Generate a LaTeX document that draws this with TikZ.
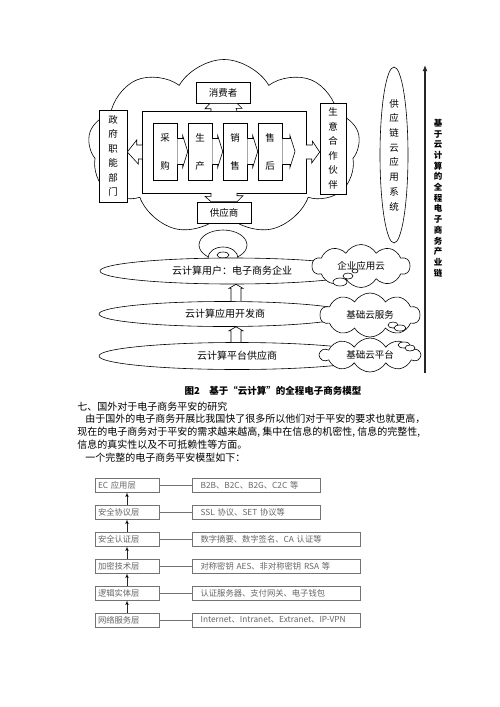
\documentclass[tikz,border=0pt]{standalone}
\usepackage{fontspec}
\setmainfont{Noto Sans CJK SC}
\usepackage{tikz}
\usetikzlibrary{shapes,arrows,arrows.meta,positioning}
\tikzstyle{block} = [rectangle, draw, fill=white, inner sep=0pt, align=center]
\tikzstyle{vbox} = [block, font=\fontsize{9.5}{14.5}\selectfont]
\tikzstyle{proc} = [block, minimum width=24pt, minimum height=57pt,
    font=\fontsize{9.5}{28}\selectfont]
\tikzstyle{tier} = [ellipse, draw, fill=white, inner sep=0pt,
    font=\fontsize{10}{12}\selectfont]
\tikzstyle{bigcloud} = [cloud, draw, fill=white, cloud puffs=9, cloud puff arc=120,
    cloud ignores aspect, minimum width=272pt, minimum height=175pt, inner sep=0pt]
\tikzstyle{smallcloud} = [cloud, draw, fill=white, cloud puffs=10, cloud puff arc=120,
    cloud ignores aspect, inner sep=0pt, font=\fontsize{9.5}{11}\selectfont]
\tikzstyle{para} = [anchor=west, inner sep=0pt, font=\fontsize{10}{12}\selectfont]
\tikzstyle{layer} = [rectangle, draw=black!55, fill=white, minimum width=64pt,
    minimum height=14pt, text width=58pt, inner sep=0pt, align=left,
    font=\fontsize{8.3}{9}\selectfont, text=black!60]
\tikzstyle{note} = [layer, minimum width=168pt, text width=152pt]
\tikzstyle{shortnote} = [note, minimum width=128pt, text width=112pt]
\tikzstyle{line} = [draw=black!55]
\tikzstyle{arrow} = [draw=black!85, -latex']
\newcommand{\tabarrow}[2]{%
  \draw[fill=white] ([yshift=13pt]#1) -- ([xshift=-5pt,yshift=13pt]#2)
    -- ([xshift=-5pt,yshift=16pt]#2) -- (#2) -- ([xshift=-5pt,yshift=-16pt]#2)
    -- ([xshift=-5pt,yshift=-13pt]#2) -- ([yshift=-13pt]#1);}
\newcommand{\hollowup}[2]{%
  \draw[fill=white] ([xshift=-5pt]#1) -- ([xshift=-5pt,yshift=-4pt]#2)
    -- ([xshift=-7pt,yshift=-4pt]#2) -- (#2) -- ([xshift=7pt,yshift=-4pt]#2)
    -- ([xshift=5pt,yshift=-4pt]#2) -- ([xshift=5pt]#1);}

\begin{document}
\begin{tikzpicture}[x=1pt, y=-1pt, node distance=35pt, >=latex', semithick]
    \useasboundingbox (0,0) rectangle (500,707);

    % bubbles between the chain cloud and the users
    \draw[fill=white] (223,245) ellipse (24 and 15);
    \draw[fill=white] (223,258) ellipse (15 and 11);
    \draw[fill=white] (223,255) ellipse (6 and 3);

    % the whole chain
    \node[bigcloud] (cloud) at (224,147) {};
    \node[block, minimum width=164pt, minimum height=82pt] (frame) at (224,152) {};
    \node[proc] (cg) at (165,151.5) {采\\购};
    \node[proc, right of=cg] (sc) {生\\产};
    \node[proc, right of=sc] (xs) {销\\售};
    \node[proc, right of=xs] (sh) {售\\后};
    \coordinate (shtip) at (295,151.5);
    \tabarrow{cg.east}{sc.west}
    \tabarrow{sc.east}{xs.west}
    \tabarrow{xs.east}{sh.west}
    \tabarrow{sh.east}{shtip}

    \node[vbox, minimum width=28pt, minimum height=92pt] (zf) at (113,156) {政\\府\\职\\能\\部\\门};
    \node[vbox, minimum width=26pt, minimum height=91pt] (hb) at (333,148.5) {生\\意\\合\\作\\伙\\伴};
    \node[block, minimum width=54pt, minimum height=21pt, font=\fontsize{9.5}{11}\selectfont] (xm) at (223,92.5) {消费者};
    \node[block, minimum width=54pt, minimum height=21pt, font=\fontsize{9.5}{11}\selectfont] (gy) at (224,212.5) {供应商};

    \draw[fill=white] ([xshift=0.5pt,yshift=7pt]frame.west) -- ++(-5.5,0) -- ++(0,-5)
        -- (zf.east |- frame.west) -- ++(11,12) -- ++(0,-5) -- ([xshift=0.5pt,yshift=-7pt]frame.west);
    \draw[fill=white] ([xshift=-0.5pt,yshift=7pt]frame.east) -- ++(6.5,0) -- ++(0,-4)
        -- (hb.west |- frame.east) -- ++(-8,11) -- ++(0,-4) -- ([xshift=-0.5pt,yshift=-7pt]frame.east);
    \draw[fill=white] ([xshift=-13pt,yshift=-0.5pt]frame.north) -- ++(0,-2.5) -- ++(-6,0)
        -- ([xshift=-13pt]xm.south) -- ([xshift=14pt]xm.south) -- ++(5,5) -- ++(-6,0)
        -- ([xshift=13pt,yshift=-0.5pt]frame.north);
    \draw[fill=white] ([xshift=-13pt,yshift=0.5pt]frame.south) -- ++(0,3.5) -- ++(-6,0)
        -- ([xshift=-13pt]gy.north) -- ([xshift=13pt]gy.north) -- ++(6,-6) -- ++(-6,0)
        -- ([xshift=13pt,yshift=0.5pt]frame.south);

    \node[ellipse, draw, fill=white, inner sep=0pt, minimum width=28pt, minimum height=176pt,
        align=center, font=\fontsize{9.5}{14.7}\selectfont] (gyl) at (394,155)
        {供\\应\\链\\云\\应\\用\\系\\统};

    % cloud layers
    \node[tier, minimum width=264pt, minimum height=26pt] (user) at (232,271) {云计算用户：电子商务企业};
    \node[tier, minimum width=252pt, minimum height=25pt] (dev) at (225,314) {云计算应用开发商};
    \node[tier, minimum width=276pt, minimum height=27pt] (plat) at (237,356) {云计算平台供应商};
    \coordinate (ax) at (236,0);
    \hollowup{dev.north -| ax}{user.south -| ax}
    \hollowup{plat.north -| ax}{dev.south -| ax}

    \node[smallcloud, minimum width=98pt, minimum height=43pt] (qy) at (361,266) {企业应用云};
    \node[smallcloud, minimum width=100pt, minimum height=44pt] (jf) at (370,315) {基础云服务};
    \node[smallcloud, minimum width=100pt, minimum height=34pt] (jp) at (370,355) {基础云平台};
    \draw[fill=white] (340,282) ellipse (7 and 4);
    \draw[fill=white] (348,276) ellipse (5 and 3);
    \draw[fill=white] (355,271) ellipse (3 and 2);
    \draw[fill=white] (393,325) ellipse (5 and 3);
    \draw[fill=white] (400,328) ellipse (6 and 3);
    \draw[fill=white] (404,345) ellipse (6 and 3);
    \draw[fill=white] (410,348) ellipse (5 and 3);

    \coordinate (vb) at (425,373);
    \coordinate (vt) at (425,65);
    \draw[-{Latex[length=6pt,width=5pt]}, line width=1.8pt, black!85] (vb) -- (vt);
    \node[align=center, font=\bfseries\fontsize{8.5}{10.7}\selectfont] (chain) at (438,198)
        {基\\于\\云\\计\\算\\的\\全\\程\\电\\子\\商\\务\\产\\业\\链};

    \node[font=\bfseries\fontsize{9.5}{11}\selectfont] (cap) at (273,391)
        {图2\quad 基于“云计算”的全程电子商务模型};

    % text
    \node[para] (l1) at (77,407) {七、国外对于电子商务平安的研究};
    \node[para] (l2) at (85,419) {由于国外的电子商务开展比我国快了很多所以他们对于平安的要求也就更高，};
    \node[para] (l3) at (77,432) {现在的电子商务对于平安的需求越来越高,~集中在信息的机密性,~信息的完整性,};
    \node[para] (l4) at (77,445) {信息的真实性以及不可抵赖性等方面。};
    \node[para] (l5) at (85,458) {一个完整的电子商务平安模型如下：};

    % security model
    \node[layer] (ec) at (127,485) {EC 应用层};
    \node[layer, below of=ec, node distance=27pt] (xy) {安全协议层};
    \node[layer, below of=xy, node distance=27pt] (rz) {安全认证层};
    \node[layer, below of=rz, node distance=27pt] (jm) {加密技术层};
    \node[layer, below of=jm, node distance=27pt] (lj) {逻辑实体层};
    \node[layer, below of=lj, node distance=27pt] (wl) {网络服务层};

    \node[shortnote, right=33pt of ec] (ecn) {B2B、B2C、B2G、C2C 等};
    \node[shortnote, right=33pt of xy] (xyn) {SSL 协议、SET 协议等};
    \node[note, right=33pt of rz] (rzn) {数字摘要、数字签名、CA 认证等};
    \node[note, right=33pt of jm] (jmn) {对称密钥 AES、非对称密钥 RSA 等};
    \node[note, right=33pt of lj] (ljn) {认证服务器、支付网关、电子钱包};
    \node[note, right=33pt of wl] (wln) {Internet、Intranet、Extranet、IP-VPN};

    \path [line] (ec) edge (ecn);
    \path [line] (xy) edge (xyn);
    \path [line] (rz) edge (rzn);
    \path [line] (jm) edge (jmn);
    \path [line] (lj) edge (ljn);
    \path [line] (wl) edge (wln);

    \path [arrow] (xy) edge (ec);
    \path [arrow] (rz) edge (xy);
    \path [arrow] (jm) edge (rz);
    \path [arrow] (lj) edge (jm);
    \path [arrow] (wl) edge (lj);
\end{tikzpicture}
\end{document}
